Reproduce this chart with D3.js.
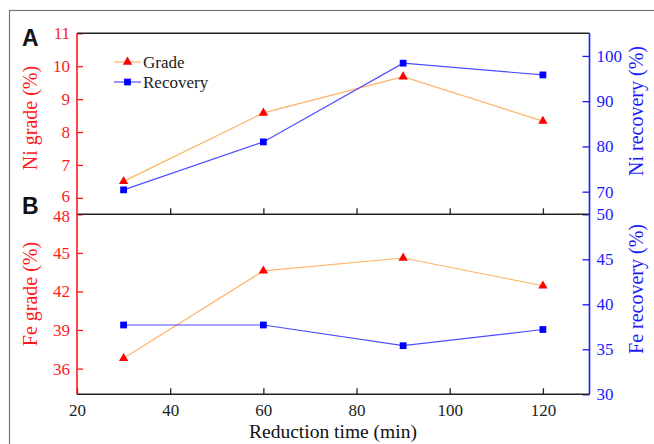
<!DOCTYPE html>
<html><head><meta charset="utf-8">
<script src="https://cdn.jsdelivr.net/npm/d3@7"></script>
<style>body{margin:0;background:#fff}svg{display:block}
.serif{font-family:"Liberation Serif","Times New Roman",Times,"DejaVu Serif",serif}
.sansb{font-family:"Liberation Sans",Arial,Helvetica,sans-serif;font-weight:bold}</style>
</head><body>
<svg id="c" width="654" height="444"></svg>
<script>
const times = [30, 60, 90, 120];
const niGrade = [6.5, 8.58, 9.68, 8.33];
const niRecovery = [70.4, 81.0, 98.4, 95.8];
const feGrade = [36.8, 43.6, 44.6, 42.44];
const feRecovery = [37.7, 37.7, 35.4, 37.2];
const xTicks = [20, 40, 60, 80, 100, 120];
const niGradeTicks = [6, 7, 8, 9, 10, 11];
const niRecTicks = [70, 80, 90, 100];
const feGradeTicks = [36, 39, 42, 45, 48];
const feRecTicks = [30, 35, 40, 45, 50];

const svg = d3.select("#c");
const L = 77, R = 589.5, T = 33.3, M = 214.3, B = 394.3;
const RED = "#ff1a1a", BLUE = "#1a1aff", ORANGE = "#ffb366", LBLUE = "#4d4dff";

svg.append("rect").attr("x", 9.5).attr("y", 10.5).attr("width", 660).attr("height", 460)
  .attr("fill", "none").attr("stroke", "#777").attr("stroke-width", 1.2);

const x = d3.scaleLinear([20, 130], [L, R]);
const yNiG = d3.scaleLinear([5.5, 11], [M, T]);
const yNiR = d3.scaleLinear([65, 105], [M, T]);
const yFeG = d3.scaleLinear([34, 48], [B, M]);
const yFeR = d3.scaleLinear([30, 50], [B, M]);

function styleAxis(g, color) {
  g.attr("font-family", null).attr("font-size", null);
  g.select(".domain").remove();
  g.selectAll(".tick line").attr("stroke", color).attr("stroke-width", 1.3);
  g.selectAll(".tick text").attr("fill", color).attr("class", "serif").style("font-size", "17px");
}

const gl1 = svg.append("g").attr("transform", `translate(${L},0)`)
  .call(d3.axisLeft(yNiG).tickValues(niGradeTicks).tickSize(-6).tickPadding(7).tickFormat(d3.format("d")));
styleAxis(gl1, RED);
gl1.selectAll(".tick text").filter(d => d === 6).attr("y", -1.5);
const gl2 = svg.append("g").attr("transform", `translate(${L},0)`)
  .call(d3.axisLeft(yFeG).tickValues(feGradeTicks).tickSize(-6).tickPadding(7).tickFormat(d3.format("d")));
styleAxis(gl2, RED);
gl2.selectAll(".tick text").filter(d => d === 48).attr("y", 1.5);

const gr1 = svg.append("g").attr("transform", `translate(${R},0)`)
  .call(d3.axisRight(yNiR).tickValues(niRecTicks).tickSize(-7).tickPadding(7).tickFormat(d3.format("d")));
styleAxis(gr1, BLUE);
const gr2 = svg.append("g").attr("transform", `translate(${R},0)`)
  .call(d3.axisRight(yFeR).tickValues(feRecTicks).tickSize(-7).tickPadding(7).tickFormat(d3.format("d")));
styleAxis(gr2, BLUE);

const gx = svg.append("g").attr("transform", `translate(0,${B})`)
  .call(d3.axisBottom(x).tickValues(xTicks).tickSize(-6).tickPadding(10).tickFormat(d3.format("d")));
styleAxis(gx, "#222");
const gx2 = svg.append("g").attr("transform", `translate(0,${M})`)
  .call(d3.axisBottom(x).tickValues(xTicks.slice(1)).tickSize(-6).tickFormat(""));
styleAxis(gx2, "#222");

const ln = (x1, y1, x2, y2, c, w) => svg.append("line").attr("x1", x1).attr("y1", y1).attr("x2", x2).attr("y2", y2)
  .attr("stroke", c).attr("stroke-width", w);
ln(L, T, R, T, "#222", 1.4);
ln(L, M, R, M, "#222", 1.4);
ln(L, B, R, B, "#222", 1.4);
ln(L, T, L, B, RED, 1.6);
ln(R, T, R, B, BLUE, 1.6);

function series(data, yS, lineColor, symbol, size, fill) {
  const pts = times.map((t, i) => [x(t), yS(data[i])]);
  svg.append("path").attr("d", d3.line()(pts)).attr("fill", "none")
    .attr("stroke", lineColor).attr("stroke-width", 1.2);
  svg.append("g").selectAll("path").data(pts).join("path")
    .attr("transform", d => `translate(${d[0]},${d[1]})`)
    .attr("d", d3.symbol(symbol, size)).attr("fill", fill);
}
series(niGrade, yNiG, ORANGE, d3.symbolTriangle, 38, "#ff0000");
series(niRecovery, yNiR, LBLUE, d3.symbolSquare, 46, "#0000ff");
series(feGrade, yFeG, ORANGE, d3.symbolTriangle, 38, "#ff0000");
series(feRecovery, yFeR, LBLUE, d3.symbolSquare, 46, "#0000ff");

const legend = [["Grade", ORANGE, d3.symbolTriangle, "#ff0000", 38], ["Recovery", LBLUE, d3.symbolSquare, "#0000ff", 46]];
legend.forEach((d, i) => {
  const yy = 62 + i * 20;
  ln(114, yy, 141, yy, d[1], 1.2);
  svg.append("path").attr("transform", `translate(127.5,${yy})`).attr("d", d3.symbol(d[2], d[4])).attr("fill", d[3]);
  svg.append("text").attr("x", 143).attr("y", yy + 5.5).attr("class", "serif").style("font-size", "17px")
    .attr("fill", "#222").text(d[0]);
});

svg.append("text").attr("x", 22).attr("y", 46).attr("class", "sansb").style("font-size", "23px")
  .attr("fill", "#111").text("A");
svg.append("text").attr("x", 22).attr("y", 214).attr("class", "sansb").style("font-size", "23px")
  .attr("fill", "#111").text("B");

function vtitle(txt, cx, cy, color) {
  svg.append("text").attr("transform", `translate(${cx},${cy}) rotate(-90)`).attr("text-anchor", "middle")
    .attr("dy", "0.35em").attr("class", "serif").style("font-size", "20px").attr("fill", color).text(txt);
}
vtitle("Ni grade (%)", 30, 118, RED);
vtitle("Fe grade (%)", 30, 294, RED);
vtitle("Ni recovery (%)", 636, 111, BLUE);
vtitle("Fe recovery (%)", 636, 289, BLUE);

svg.append("text").attr("x", 333).attr("y", 438).attr("text-anchor", "middle")
  .attr("class", "serif").style("font-size", "19.5px").attr("fill", "#111").text("Reduction time (min)");
</script>
</body></html>
